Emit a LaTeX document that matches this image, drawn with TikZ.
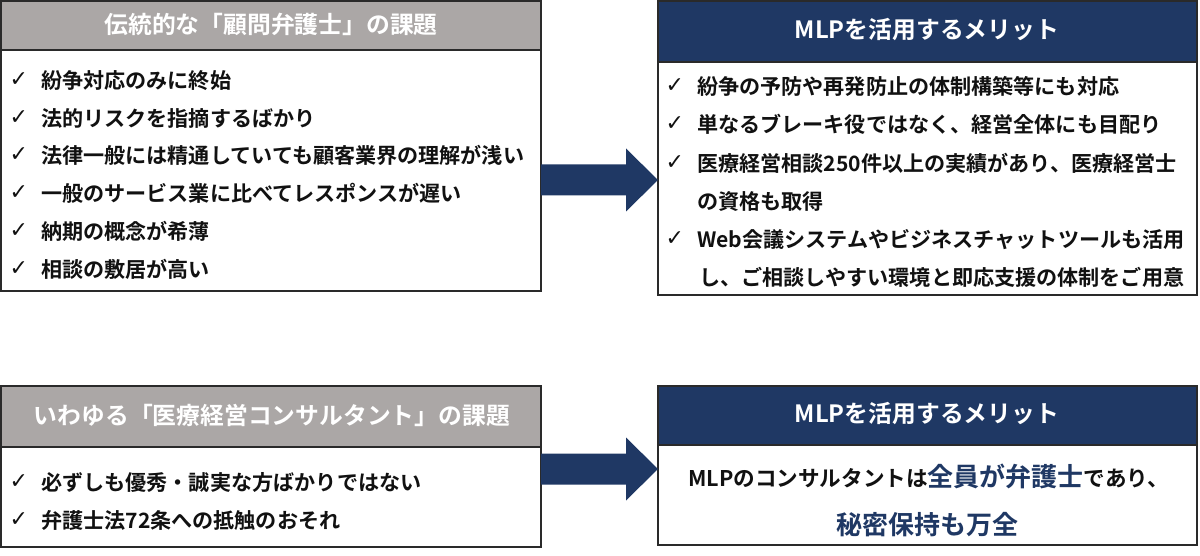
\documentclass[tikz,border=0pt]{standalone}
\usepackage{fontspec}
\setmainfont{Noto Sans CJK JP}[BoldFont={Noto Sans CJK JP Bold}]
\newfontfamily\chk{DejaVu Sans}
\definecolor{navy}{HTML}{1F3864}
\definecolor{hgray}{HTML}{ABA7A6}
\definecolor{ink}{HTML}{111111}
\definecolor{edge}{HTML}{2A2A2A}
\tikzset{
  x=1pt,y=-1pt,
  panel/.style={draw=edge,line width=1.5pt,fill=white,anchor=north west,inner sep=0pt,outer sep=0pt},
  headgray/.style={panel,fill=hgray},
  headnavy/.style={panel,fill=navy},
  htext/.style={anchor=base,inner sep=0pt,text=white,font=\fontsize{23.8}{25}\selectfont\bfseries},
  item/.style={anchor=base west,inner sep=0pt,text=ink,font=\fontsize{21.1}{22}\selectfont\bfseries},
  tick/.style={anchor=base west,inner sep=0pt,text=ink,font=\fontsize{22}{23}\selectfont\chk},
  bigblue/.style={anchor=base west,inner sep=0pt,text=navy,font=\fontsize{26}{27}\selectfont\bfseries},
  flow/.style={fill=navy,draw=none}
}
\begin{document}
\begin{tikzpicture}
\useasboundingbox (0,0) rectangle (1200,556);
% panels
\node[panel,minimum width=540pt,minimum height=290pt] (p1) at (1,1) {};
\node[headgray,minimum width=540pt,minimum height=49pt] (h1) at (1,1) {};
\node[panel,minimum width=539pt,minimum height=294pt] (p2) at (658,1) {};
\node[headnavy,minimum width=539pt,minimum height=61pt] (h2) at (658,1) {};
\node[panel,minimum width=540pt,minimum height=161pt] (p3) at (1,386) {};
\node[headgray,minimum width=540pt,minimum height=61pt] (h3) at (1,386) {};
\node[panel,minimum width=539pt,minimum height=159pt] (p4) at (658,386) {};
\node[headnavy,minimum width=539pt,minimum height=59pt] (h4) at (658,386) {};
% headers
\node[htext] (t1) at (271,34) {伝統的な「顧問弁護士」の課題};
\node[htext] (t2) at (927,39) {MLPを活用するメリット};
\node[htext] (t3) at (272,424) {いわゆる「医療経営コンサルタント」の課題};
\node[htext] (t4) at (927,422) {MLPを活用するメリット};
% left top
\foreach \n/\y/\s in {a1/89/紛争対応のみに終始,a2/127/法的リスクを指摘するばかり,a3/164/法律一般には精通していても顧客業界の理解が浅い,a4/202/一般のサービス業に比べてレスポンスが遅い,a5/240/納期の概念が希薄,a6/278/相談の敷居が高い}{
  \node[tick] (c\n) at (9.5,\y-2) {✓};
  \node[item] (\n) at (41,\y) {\s};
}
% right top
\foreach \n/\y/\s in {b1/95/紛争の予防や再発防止の体制構築等にも対応,b2/133/単なるブレーキ役ではなく、経営全体にも目配り,b3/172/医療経営相談250件以上の実績があり、医療経営士,b5/248/Web会議システムやビジネスチャットツールも活用}{
  \node[tick] (c\n) at (665.5,\y-2) {✓};
  \node[item] (\n) at (697,\y) {\s};
}
\node[item] (b4) at (697,210) {の資格も取得};
\node[item] (b6) at (699,286) {し、ご相談しやすい環境と即応支援の体制をご用意};
% left bottom
\foreach \n/\y/\s in {d1/490/必ずしも優秀・誠実な方ばかりではない,d2/528/弁護士法72条への抵触のおそれ}{
  \node[tick] (c\n) at (9.5,\y-2) {✓};
  \node[item] (\n) at (41,\y) {\s};
}
% right bottom
\node[item,anchor=base west,font=\fontsize{21.6}{22}\selectfont\bfseries] (e1) at (688,486) {MLPのコンサルタントは{\color{navy}\fontsize{26}{27}\selectfont 全員が弁護士}であり、};
\node[bigblue,anchor=base] (e2) at (927,534) {秘密保持も万全};
% arrows
\coordinate (f1) at (p1.east |- 0,180);
\coordinate (g1) at (p2.west |- 0,180);
\fill[flow] (f1)++(0,-15.5) -- ++(85,0) -- ++(0,-16) -- (g1) -- ([shift={(-32,31.5)}]g1) -- ++(0,-16) -- ([shift={(0,15.5)}]f1) -- cycle;
\coordinate (f2) at (p3.east |- 0,469);
\coordinate (g2) at (p4.west |- 0,469);
\fill[flow] (f2)++(0,-15.5) -- ++(85,0) -- ++(0,-16) -- (g2) -- ([shift={(-32,31.5)}]g2) -- ++(0,-16) -- ([shift={(0,15.5)}]f2) -- cycle;
\end{tikzpicture}
\end{document}
